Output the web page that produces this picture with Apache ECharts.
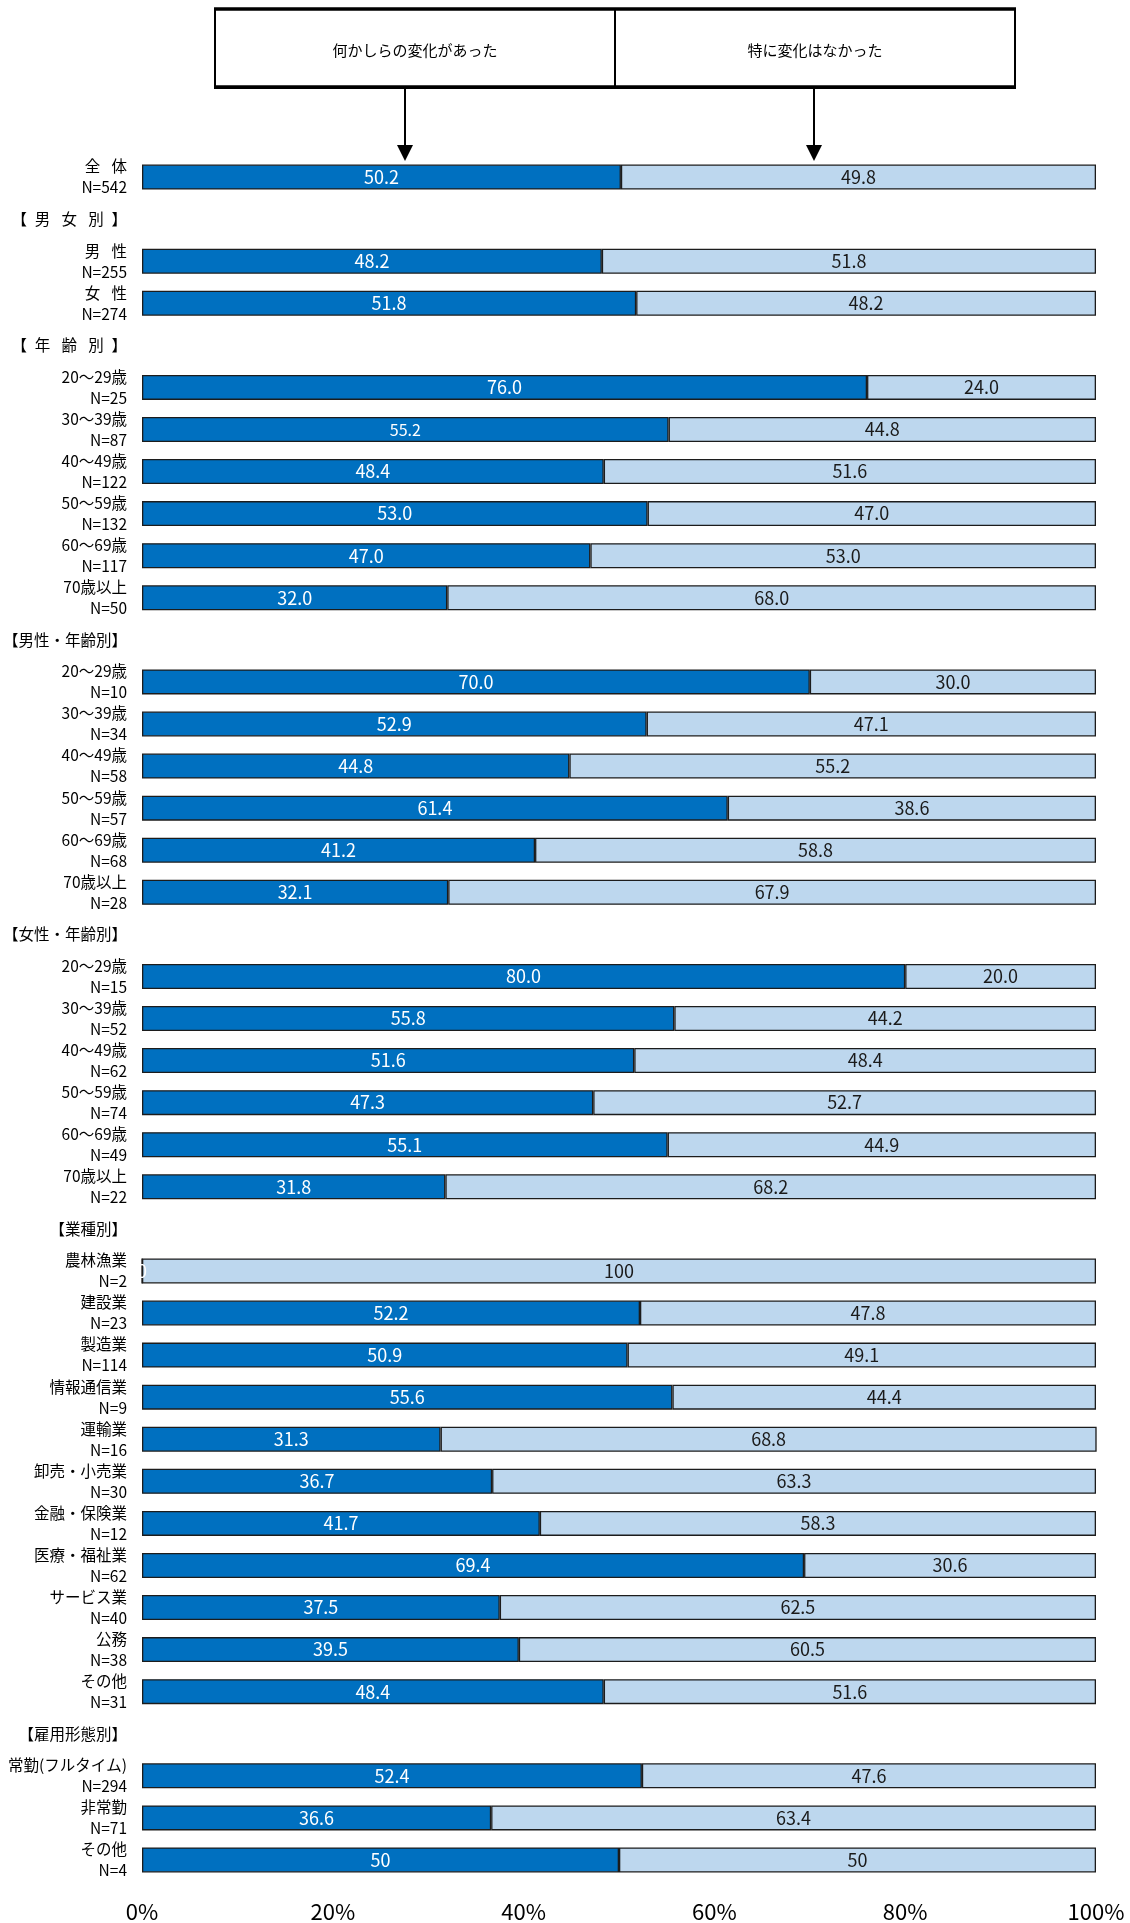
<!DOCTYPE html>
<html lang="ja">
<head>
<meta charset="utf-8">
<title>変化の有無</title>
<script src="https://cdn.jsdelivr.net/npm/echarts@6/dist/echarts.min.js"></script>
<style>
  html, body { margin: 0; padding: 0; background: #fff; }
  #chart { width: 1130px; height: 1923px; }
</style>
</head>
<body>
<div id="chart"></div>
<script>
// Row labels, top to bottom (section headings have no bar)
const categories = [
  '全\u2002 体', '【\u2002男\u2002 女\u2002 別\u2002】', '男\u2002 性', '女\u2002 性',
  '【\u2002年\u2002 齢\u2002 別\u2002】',
  '20〜29歳', '30〜39歳', '40〜49歳', '50〜59歳', '60〜69歳', '70歳以上',
  '【男性・年齢別】',
  '20〜29歳', '30〜39歳', '40〜49歳', '50〜59歳', '60〜69歳', '70歳以上',
  '【女性・年齢別】',
  '20〜29歳', '30〜39歳', '40〜49歳', '50〜59歳', '60〜69歳', '70歳以上',
  '【業種別】',
  '農林漁業', '建設業', '製造業', '情報通信業', '運輸業', '卸売・小売業',
  '金融・保険業', '医療・福祉業', 'サービス業', '公務', 'その他',
  '【雇用形態別】',
  '常勤(フルタイム)', '非常勤', 'その他'
];

// Respondents per row
const sampleSizes = [
  542, null, 255, 274, null,
  25, 87, 122, 132, 117, 50, null,
  10, 34, 58, 57, 68, 28, null,
  15, 52, 62, 74, 49, 22, null,
  2, 23, 114, 9, 16, 30, 12, 62, 40, 38, 31, null,
  294, 71, 4
];

// 何かしらの変化があった (%)
const changedValues = [
  '50.2', null, '48.2', '51.8', null,
  '76.0', '55.2', '48.4', '53.0', '47.0', '32.0', null,
  '70.0', '52.9', '44.8', '61.4', '41.2', '32.1', null,
  '80.0', '55.8', '51.6', '47.3', '55.1', '31.8', null,
  '0', '52.2', '50.9', '55.6', '31.3', '36.7', '41.7', '69.4', '37.5', '39.5', '48.4', null,
  '52.4', '36.6', '50'
];

// 特に変化はなかった (%)
const unchangedValues = [
  '49.8', null, '51.8', '48.2', null,
  '24.0', '44.8', '51.6', '47.0', '53.0', '68.0', null,
  '30.0', '47.1', '55.2', '38.6', '58.8', '67.9', null,
  '20.0', '44.2', '48.4', '52.7', '44.9', '68.2', null,
  '100', '47.8', '49.1', '44.4', '68.8', '63.3', '58.3', '30.6', '62.5', '60.5', '51.6', null,
  '47.6', '63.4', '50'
];

// x-axis ticks (%)
const xTicks = [0, 20, 40, 60, 80, 100];

const seriesNames = ['何かしらの変化があった', '特に変化はなかった'];

const FONT = '"Noto Sans CJK JP", "Noto Sans", sans-serif';
const DARK = '#0070C0';
const LIGHT = '#BDD7EE';
const EDGE = '#1c1c1c';

// the 30〜39歳 (age) label is set a little smaller
const smallLabelRows = [6];

function toData(values, labelColor) {
  return values.map(function (v, i) {
    if (v === null) return { value: '-' };
    const item = { value: Number(v) };
    if (smallLabelRows.indexOf(i) >= 0 && values === changedValues) {
      item.label = { fontSize: 16 };
    }
    return item;
  });
}

function labelFrom(values) {
  return function (p) {
    const s = values[p.dataIndex];
    return s === null ? '' : s;
  };
}

const chart = echarts.init(document.getElementById('chart'), null, { renderer: 'canvas' });

const ax = 405, bx = 814;   // arrow positions under the key box

chart.setOption({
  animation: false,
  backgroundColor: '#fff',
  textStyle: { fontFamily: FONT },
  grid: { left: 142, right: 34, top: 156, bottom: 42, containLabel: false },
  xAxis: {
    type: 'value',
    min: xTicks[0],
    max: xTicks[xTicks.length - 1],
    interval: xTicks[1] - xTicks[0],
    axisLine: { show: false },
    axisTick: { show: false },
    splitLine: { show: false },
    axisLabel: {
      formatter: '{value}%',
      fontSize: 22,
      color: '#000',
      margin: 20,
      fontFamily: FONT
    }
  },
  yAxis: {
    type: 'category',
    inverse: true,
    data: categories,
    axisLine: { show: false },
    axisTick: { show: false },
    axisLabel: {
      interval: 0,
      margin: 15,
      align: 'right',
      fontSize: 15.5,
      lineHeight: 21,
      color: '#000',
      fontFamily: FONT,
      formatter: function (name, idx) {
        const n = sampleSizes[idx];
        return n === null ? name : name + '\nN=' + n;
      }
    }
  },
  series: [
    {
      name: seriesNames[0],
      type: 'bar',
      stack: 'total',
      barWidth: 25,
      data: toData(changedValues),
      itemStyle: { color: DARK, borderColor: EDGE, borderWidth: 1.3 },
      label: {
        show: true,
        position: 'inside',
        color: '#fff',
        fontSize: 18,
        fontFamily: FONT,
        formatter: labelFrom(changedValues)
      }
    },
    {
      name: seriesNames[1],
      type: 'bar',
      stack: 'total',
      barWidth: 25,
      data: toData(unchangedValues),
      itemStyle: { color: LIGHT, borderColor: EDGE, borderWidth: 1.3 },
      label: {
        show: true,
        position: 'inside',
        color: '#1a1a1a',
        fontSize: 18,
        fontFamily: FONT,
        formatter: labelFrom(unchangedValues)
      }
    }
  ],
  graphic: [
    // key box
    { type: 'rect', shape: { x: 215, y: 9, width: 800, height: 79 },
      style: { fill: '#fff', stroke: '#000', lineWidth: 2 } },
    { type: 'line', shape: { x1: 214, y1: 9, x2: 1016, y2: 9 },
      style: { stroke: '#000', lineWidth: 3.5 } },
    { type: 'line', shape: { x1: 214, y1: 87, x2: 1016, y2: 87 },
      style: { stroke: '#000', lineWidth: 3.5 } },
    { type: 'line', shape: { x1: 615, y1: 9, x2: 615, y2: 88 },
      style: { stroke: '#000', lineWidth: 2 } },
    { type: 'text', x: 415, y: 50,
      style: { text: seriesNames[0], fill: '#000', font: '15px ' + FONT,
               textAlign: 'center', textVerticalAlign: 'middle' } },
    { type: 'text', x: 815, y: 50,
      style: { text: seriesNames[1], fill: '#000', font: '15px ' + FONT,
               textAlign: 'center', textVerticalAlign: 'middle' } },
    // arrows pointing at the bars
    { type: 'line', shape: { x1: ax, y1: 88, x2: ax, y2: 147 },
      style: { stroke: '#000', lineWidth: 2 } },
    { type: 'polygon', shape: { points: [[ax - 8, 145], [ax + 8, 145], [ax, 161]] },
      style: { fill: '#000' } },
    { type: 'line', shape: { x1: bx, y1: 88, x2: bx, y2: 147 },
      style: { stroke: '#000', lineWidth: 2 } },
    { type: 'polygon', shape: { points: [[bx - 8, 145], [bx + 8, 145], [bx, 161]] },
      style: { fill: '#000' } }
  ]
});
</script>
</body>
</html>
